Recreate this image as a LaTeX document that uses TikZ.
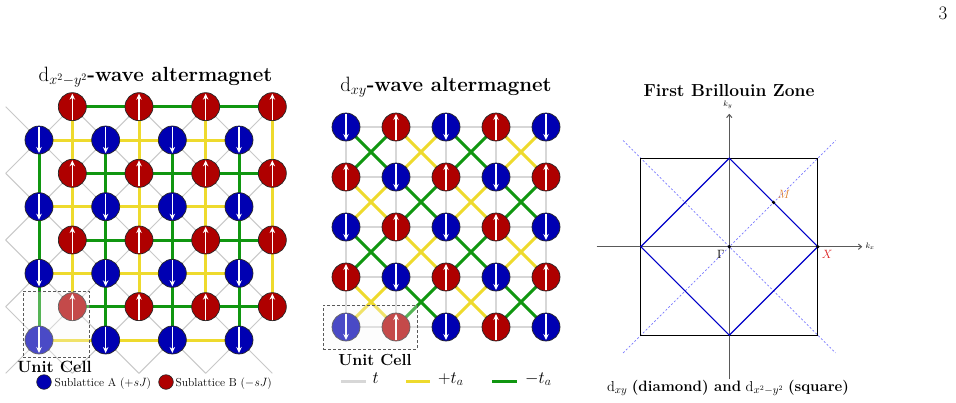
\documentclass[tikz,border=0pt]{standalone}
\usetikzlibrary{arrows.meta,backgrounds}
\definecolor{siteAcol}{RGB}{0,0,178}
\definecolor{siteBcol}{RGB}{175,0,0}
\definecolor{bondY}{RGB}{238,218,45}
\definecolor{bondG}{RGB}{16,150,16}
\definecolor{bondT}{RGB}{200,200,200}
\definecolor{bondT2}{RGB}{215,215,215}
\definecolor{zoneblue}{RGB}{0,0,200}
\definecolor{dashblue}{RGB}{120,120,255}
\definecolor{mcol}{RGB}{220,125,40}
\definecolor{xcol}{RGB}{220,30,30}
\newcommand{\setfs}[1]{\fontsize{#1}{#1}\selectfont}
\begin{document}
\begin{tikzpicture}[x=1pt,y=-1pt,
  site/.style={circle, draw=black!85, line width=0.7pt, minimum size=28pt, inner sep=0pt},
  spinarrow/.style={white, line width=1.1pt, shorten <=1pt, shorten >=1pt, -{Stealth[length=6pt,width=5.5pt]}},
  siteA/.style={site, fill=siteAcol, path picture={\draw[spinarrow] (path picture bounding box.north) -- (path picture bounding box.south);}},
  siteB/.style={site, fill=siteBcol, path picture={\draw[spinarrow] (path picture bounding box.south) -- (path picture bounding box.north);}},
  tthin/.style={draw=bondT, line width=1pt},
  tbond/.style={draw=bondT2, line width=1.8pt},
  ybond/.style={draw=bondY, line width=3pt},
  gbond/.style={draw=bondG, line width=3pt},
  ucell/.style={draw=black!65, dash pattern=on 3pt off 2pt, line width=0.8pt, fill=black!3, fill opacity=0.3, inner sep=0pt},
  legdot/.style={circle, draw=black!85, line width=0.6pt, minimum size=14.6pt, inner sep=0pt},
  bzdash/.style={draw=dashblue, line width=0.7pt, dash pattern=on 2pt off 2pt},
  bzaxis/.style={draw=black!65, line width=1pt, -{To[length=4pt,width=6pt]}},
  lbl/.style={inner sep=0pt}
]
\useasboundingbox (0,0) rectangle (956,402);

% page number
\node[lbl, font=\setfs{19}] (pg) at (943,13.3) {3};

% ================= LEFT PANEL =================
\node[lbl, anchor=base, font=\setfs{20.5}] (t1) at (155.5,81) {$\mathrm{d}_{x^2-y^2}$\textbf{-wave altermagnet}};
\foreach \u in {-1,...,7}{\foreach \v in {-1,...,7}{
  \coordinate (P-\u-\v) at ({39+33.333*\u},{340-33.333*\v});}}
% nearest-neighbour t bonds
\foreach \u in {0,2,4,6}{\foreach \v in {0,2,4,6}{
  \pgfmathtruncatemacro\up{\u+1}\pgfmathtruncatemacro\um{\u-1}
  \pgfmathtruncatemacro\vp{\v+1}\pgfmathtruncatemacro\vm{\v-1}
  \draw[tthin] (P-\um-\vm) -- (P-\up-\vp);
  \draw[tthin] (P-\um-\vp) -- (P-\up-\vm);}}
% next-nearest-neighbour bonds
\foreach \a in {0,2,4}{\foreach \b in {0,2,4,6}{
  \pgfmathtruncatemacro\an{\a+2}
  \draw[ybond] (P-\a-\b) -- (P-\an-\b);
  \draw[gbond] (P-\b-\a) -- (P-\b-\an);}}
\foreach \a in {1,3,5}{\foreach \b in {1,3,5,7}{
  \pgfmathtruncatemacro\an{\a+2}
  \draw[gbond] (P-\a-\b) -- (P-\an-\b);
  \draw[ybond] (P-\b-\a) -- (P-\b-\an);}}
% sites
\foreach \u in {0,2,4,6}{\foreach \v in {0,2,4,6}{\node[siteA] (A-\u-\v) at (P-\u-\v) {};}}
\foreach \u in {1,3,5,7}{\foreach \v in {1,3,5,7}{\node[siteB] (B-\u-\v) at (P-\u-\v) {};}}
% unit cell
\node[ucell, minimum width=66pt, minimum height=66pt] (uc1) at (56,324) {};
\node[lbl, anchor=base, font=\setfs{16.3}\bfseries] (uc1lab) at (54.5,372.7) {Unit Cell};
% legend
\node[legdot, fill=siteAcol] (legA) at (44,382) {};
\node[lbl, anchor=west, font=\setfs{11.5}] (legAt) at (54.5,384) {Sublattice A ($+sJ$)};
\node[legdot, fill=siteBcol] (legB) at (166,382) {};
\node[lbl, anchor=west, font=\setfs{11.5}] (legBt) at (175.5,384) {Sublattice B ($-sJ$)};

% ================= MIDDLE PANEL =================
\node[lbl, anchor=base, font=\setfs{20.5}] (t2) at (446,91) {$\mathrm{d}_{xy}$\textbf{-wave altermagnet}};
\foreach \i in {0,...,4}{\foreach \j in {0,...,4}{
  \coordinate (Q-\i-\j) at ({346+50*\i},{327-50*\j});}}
\foreach \i in {0,...,3}{\foreach \j in {0,...,4}{
  \pgfmathtruncatemacro\ii{\i+1}
  \draw[tbond] (Q-\i-\j) -- (Q-\ii-\j);
  \draw[tbond] (Q-\j-\i) -- (Q-\j-\ii);}}
\foreach \i in {0,...,3}{\foreach \j in {0,...,3}{
  \pgfmathtruncatemacro\ii{\i+1}\pgfmathtruncatemacro\jj{\j+1}
  \pgfmathtruncatemacro\pty{mod(\i+\j,2)}
  \ifnum\pty=1 \def\bc{gbond}\else\def\bc{ybond}\fi
  \draw[\bc] (Q-\i-\j) -- (Q-\ii-\jj);
  \draw[\bc] (Q-\ii-\j) -- (Q-\i-\jj);}}
\foreach \i in {0,...,4}{\foreach \j in {0,...,4}{
  \pgfmathtruncatemacro\pty{mod(\i+\j,2)}
  \ifnum\pty=0 \node[siteA] (S-\i-\j) at (Q-\i-\j) {};\else\node[siteB] (S-\i-\j) at (Q-\i-\j) {};\fi}}
\node[ucell, minimum width=94pt, minimum height=44pt] (uc2) at (370,327) {};
\node[lbl, anchor=base, font=\setfs{16}\bfseries] (uc2lab) at (375,365) {Unit Cell};
% legend
\coordinate (lt1) at (341,381); \coordinate (lt2) at (366,381);
\coordinate (ly1) at (406,381); \coordinate (ly2) at (430,381);
\coordinate (lg1) at (492,381); \coordinate (lg2) at (517,381);
\draw[draw=bondT2, line width=3pt] (lt1) -- (lt2);
\draw[ybond] (ly1) -- (ly2);
\draw[gbond] (lg1) -- (lg2);
\node[lbl, anchor=base west, font=\setfs{16.5}] (ltt) at (372.5,383) {$t$};
\node[lbl, anchor=base west, font=\setfs{16.5}] (lyt) at (438,383) {$+t_a$};
\node[lbl, anchor=base west, font=\setfs{16.5}] (lgt) at (525,383) {$-t_a$};

% ================= RIGHT PANEL =================
\node[lbl, anchor=base, font=\setfs{17.4}\bfseries] (t3) at (729,96.5) {First Brillouin Zone};
\begin{scope}[shift={(729.3,246.7)}, x=88.5pt, y=88.5pt]
  \coordinate (G) at (0,0);
  \coordinate (Xp) at (1,0);
  \coordinate (Mp) at (0.5,0.5);
  \coordinate (c1) at (1,1); \coordinate (c2) at (-1,1);
  \coordinate (c3) at (-1,-1); \coordinate (c4) at (1,-1);
  \coordinate (v1) at (1,0); \coordinate (v2) at (0,1);
  \coordinate (v3) at (-1,0); \coordinate (v4) at (0,-1);
  \coordinate (d1) at (-1.2,-1.2); \coordinate (d2) at (1.2,1.2);
  \coordinate (d3) at (-1.2,1.2); \coordinate (d4) at (1.2,-1.2);
  \coordinate (axl) at (-1.5,0); \coordinate (axr) at (1.5,0);
  \coordinate (axb) at (0,-1.5); \coordinate (axt) at (0,1.5);
  \draw[bzdash] (d1) -- (d2);
  \draw[bzdash] (d3) -- (d4);
  \draw[bzaxis] (axl) -- (axr);
  \draw[bzaxis] (axb) -- (axt);
  \draw[black, line width=1.3pt] (c1) -- (c2) -- (c3) -- (c4) -- cycle;
  \draw[zoneblue, line width=1.1pt] (v1) -- (v2) -- (v3) -- (v4) -- cycle;
  \fill[black] (G) circle (1.8pt);
  \fill[black] (Xp) circle (1.8pt);
  \fill[black] (Mp) circle (1.8pt);
  \node[lbl, font=\setfs{8}] (kxl) at ([xshift=8pt]axr) {$k_x$};
  \node[lbl, font=\setfs{8}] (kyl) at ([xshift=-1.5pt,yshift=9pt]axt) {$k_y$};
  \node[lbl, font=\setfs{12}] (Gl) at ([xshift=-8.5pt,yshift=-8pt]G) {$\Gamma$};
  \node[lbl, font=\setfs{12}, text=xcol] (Xl) at ([xshift=9.5pt,yshift=-8pt]Xp) {$X$};
  \node[lbl, font=\setfs{12}, text=mcol] (Ml) at ([xshift=10.5pt,yshift=8pt]Mp) {$M$};
\end{scope}
\node[lbl, anchor=base, font=\setfs{15}] (cap) at (728,391) {$\mathrm{d}_{xy}$ \textbf{(diamond) and} $\mathrm{d}_{x^2-y^2}$ \textbf{(square)}};
\end{tikzpicture}
\end{document}
